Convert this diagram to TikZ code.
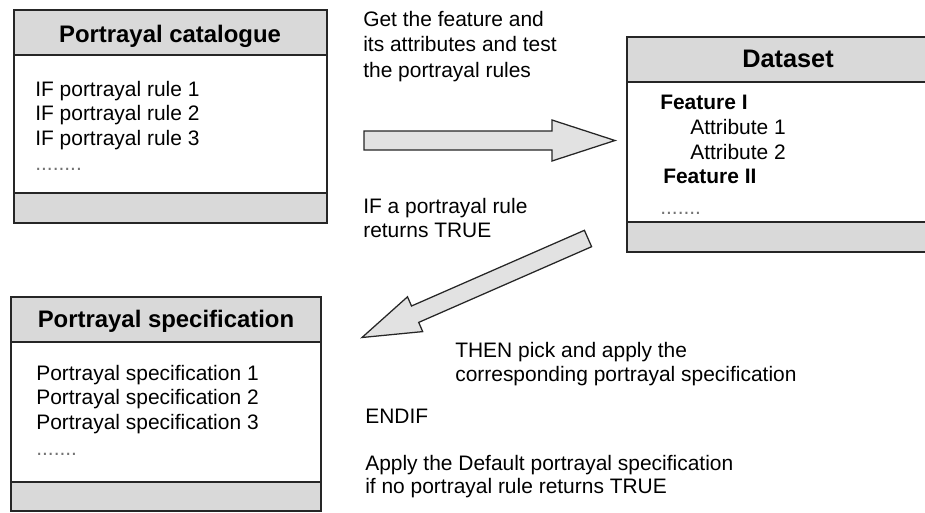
\documentclass[tikz,border=0pt]{standalone}
\usepackage{fontspec}
\setmainfont{Liberation Sans}
\usetikzlibrary{calc}
\definecolor{boxgray}{HTML}{D9D9D9}
\definecolor{arrowgray}{HTML}{E2E2E2}
\tikzset{
  txt/.style={anchor=base west, inner sep=0pt, font=\fontsize{14.9}{17}\selectfont},
  boldtxt/.style={txt, font=\fontsize{14.9}{17}\selectfont\bfseries},
  ttl/.style={anchor=base, inner sep=0pt, font=\fontsize{17}{20}\selectfont\bfseries},
  dotrow/.style={txt, text=black!55},
  boxline/.style={draw=black!85, line width=1.3pt},
  blockarrow/.style={draw=black!85, line width=0.9pt, fill=arrowgray, line join=miter},
}

\begin{document}
\begin{tikzpicture}[x=0.025cm, y=-0.025cm]
    \useasboundingbox (0,0) rectangle (925,512);
    %the catalogue box
    \fill[boxgray] (14,10) rectangle (327,55) (14,193) rectangle (327,223);
    \draw[boxline] (14,10) rectangle (327,223) (14,55) -- (327,55) (14,193) -- (327,193);
    \path (170,42.5) node[ttl] (cattitle) {Portrayal catalogue};
    \path (35,96) node[txt] (rule1) {IF portrayal rule 1}
        (35,120) node[txt] (rule2) {IF portrayal rule 2}
        (35,145) node[txt] (rule3) {IF portrayal rule 3}
        (35,170) node[dotrow] (ruledots) {........};
    %the dataset box
    \fill[boxgray] (627,37) rectangle (950,82) (627,222) rectangle (950,252);
    \draw[boxline] (950,37) -- (627,37) -- (627,252) -- (950,252) (627,82) -- (950,82) (627,222) -- (950,222);
    \path (788,68) node[ttl, font=\fontsize{18}{20}\selectfont\bfseries] (datatitle) {Dataset};
    \path (660,109) node[boldtxt] (feat1) {Feature I}
        (690,134) node[txt] (attr1) {Attribute 1}
        (690,159) node[txt] (attr2) {Attribute 2}
        (663,183) node[boldtxt] (feat2) {Feature II}
        (660,214) node[dotrow] (featdots) {.......};
    %the specification box
    \fill[boxgray] (11,297) rectangle (321,342) (11,482) rectangle (321,511);
    \draw[boxline] (11,297) rectangle (321,511) (11,342) -- (321,342) (11,482) -- (321,482);
    \path (166,327) node[ttl] (spectitle) {Portrayal specification};
    \path (36,380) node[txt] (spec1) {Portrayal specification 1}
        (36,404) node[txt] (spec2) {Portrayal specification 2}
        (36,429) node[txt] (spec3) {Portrayal specification 3}
        (36,455) node[dotrow] (specdots) {.......};
    %the arrows
    \draw[blockarrow] (364,131) -- (552,131) -- (552,120) -- (615,140.5) -- (552,161) -- (552,150) -- (364,150) -- cycle;
    \draw[blockarrow] (584.4,230.3) -- (591.6,246.7) -- (418.7,322.4) -- (422.7,331.6) -- (362,337.5)
        -- (407.5,296.8) -- (411.5,306.0) -- cycle;
    %the comments
    \path (363,27) node[txt] (get1) {Get the feature and}
        (363,52) node[txt] (get2) {its attributes and test}
        (363,77) node[txt] (get3) {the portrayal rules}
        (363,213) node[txt] (if1) {IF a portrayal rule}
        (363,237) node[txt] (if2) {returns TRUE}
        (455,357) node[txt] (then1) {THEN pick and apply the}
        (455,381) node[txt] (then2) {corresponding portrayal specification}
        (365,423) node[txt] (endif) {ENDIF}
        (365,470) node[txt] (dflt1) {Apply the Default portrayal specification}
        (365,493) node[txt] (dflt2) {if no portrayal rule returns TRUE};
\end{tikzpicture}
\end{document}
